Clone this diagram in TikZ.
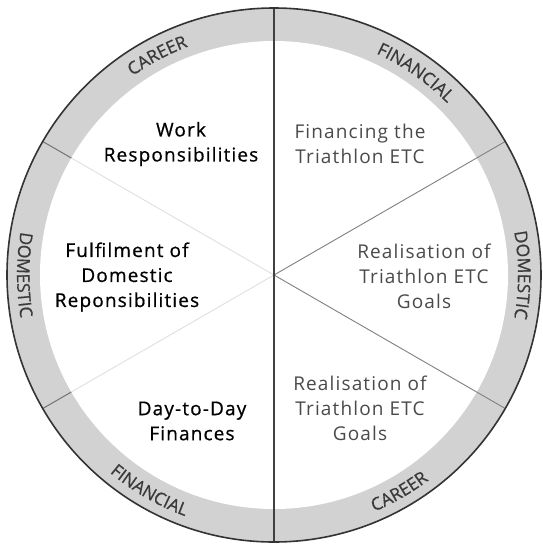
\documentclass[tikz,border=0pt]{standalone}
\usepackage{fontspec}
\setmainfont{Open Sans}
\newfontfamily\leftfont[LetterSpace=6,FakeBold=0.7]{Open Sans}
\newfontfamily\rightfont[LetterSpace=6]{Open Sans}
\newfontfamily\ringfont[FakeBold=0.6]{Open Sans}
\usetikzlibrary{decorations.text}
\definecolor{ringgray}{HTML}{D2D2D2}
\definecolor{ringtext}{HTML}{3A3A3A}
\definecolor{righttext}{HTML}{4A4A4A}
\tikzset{
  lefttext/.style={align=center,font=\leftfont\fontsize{19}{25}\selectfont,text=black},
  rtext/.style={align=center,font=\rightfont\fontsize{19}{25}\selectfont,text=righttext},
  vline/.style={draw=black!75,line width=1.6pt},
  faintline/.style={draw=black!12,line width=0.9pt},
  midline/.style={draw=black!50,line width=0.9pt},
  ringline/.style={draw=black!55,line width=1pt},
  rim/.style={draw=black!80,line width=1.6pt},
}
\newcommand{\ringfmt}{\ringfont\fontsize{17.5}{17.5}\selectfont\color{ringtext}}
\begin{document}
\begin{tikzpicture}[x=1pt,y=1pt]
\useasboundingbox (0,0) rectangle (542,-547);
\coordinate (c) at (274,-275);
\fill[ringgray] (c) circle[radius=267];
\fill[white] (c) circle[radius=234];
% points on circles
\foreach \a in {30,90,150,210,270,330}{
  \path (c) ++(\a:267) coordinate (o\a);
  \path (c) ++(\a:234) coordinate (i\a);
}
% left half diagonals
\draw[faintline] (c) -- (i150);
\draw[faintline] (c) -- (i210);
\draw[ringline] (i150) -- (o150);
\draw[ringline] (i210) -- (o210);
% right half diagonals
\draw[midline] (c) -- (o30);
\draw[midline] (c) -- (o330);
% vertical
\draw[vline] (o90) -- (o270);
\draw[rim] (c) circle[radius=267];
% ring labels
\path (c) ++(146:244) coordinate (tca);
\path (c) ++(83:244) coordinate (tfa);
\path (c) ++(26:244) coordinate (tdr);
\path (c) ++(154:257) coordinate (tdl);
\path (c) ++(210:257) coordinate (bfa);
\path (c) ++(272:257) coordinate (bca);
\path[decorate,decoration={text along path,text align=center,text={|\ringfmt|CAREER}}]
  (tca) arc[start angle=146,end angle=90,radius=244];
\path[decorate,decoration={text along path,text align=center,text={|\ringfmt|FINANCIAL}}]
  (tfa) arc[start angle=83,end angle=27,radius=244];
\path[decorate,decoration={text along path,text align=center,text={|\ringfmt|DOMESTIC}}]
  (tdr) arc[start angle=26,end angle=-26,radius=244];
\path[decorate,decoration={text along path,text align=center,text={|\ringfmt|DOMESTIC}}]
  (tdl) arc[start angle=154,end angle=206,radius=257];
\path[decorate,decoration={text along path,text align=center,text={|\ringfmt|FINANCIAL}}]
  (bfa) arc[start angle=210,end angle=270,radius=257];
\path[decorate,decoration={text along path,text align=center,text={|\ringfmt|CAREER}}]
  (bca) arc[start angle=272,end angle=328,radius=257];
% inner labels
\node[lefttext] (work) at (181,-144) {Work\\Responsibilities};
\node[lefttext] (fulfil) at (127,-277) {Fulfilment of\\Domestic\\Reponsibilities};
\node[lefttext] (daily) at (192,-421) {Day-to-Day\\Finances};
\node[rtext] (fin) at (360,-144) {Financing the\\Triathlon ETC};
\node[rtext] (goal1) at (424,-276) {Realisation of\\Triathlon ETC\\Goals};
\node[rtext] (goal2) at (360,-408) {Realisation of\\Triathlon ETC\\Goals};
\end{tikzpicture}
\end{document}
